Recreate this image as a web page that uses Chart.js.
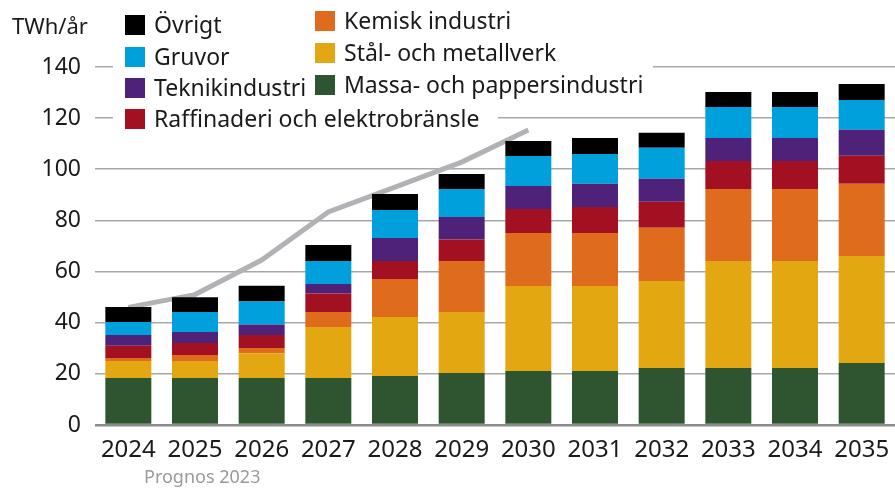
<!DOCTYPE html>
<html>
<head>
    <meta charset="UTF-8">
    <title>Elanvändning industri</title>
    <script src="https://cdn.jsdelivr.net/npm/chart.js"></script>
    <style>
        body { margin: 0; background: white; }
        #wrap { width: 895px; height: 488px; position: relative; }
    </style>
</head>
<body>
    <div id="wrap"><canvas id="industryChart"></canvas></div>

    <script>
        const years = ["2024", "2025", "2026", "2027", "2028", "2029", "2030", "2031", "2032", "2033", "2034", "2035"];

        // TWh/år per bransch, nedifrån och upp i stapeln
        const massa = [18.4, 18.4, 18.4, 18.4, 19.2, 20.3, 21.1, 21.1, 22.3, 22.3, 22.3, 24.2];
        const stal = [6.6, 6.6, 9.7, 19.9, 23.0, 23.9, 33.3, 33.3, 34.0, 41.8, 41.8, 41.9];
        const kemisk = [1.2, 2.4, 2.0, 5.9, 14.9, 19.9, 20.7, 20.7, 20.8, 28.2, 28.2, 28.2];
        const raffinaderi = [4.8, 4.7, 5.1, 7.2, 7.0, 8.4, 9.4, 10.2, 10.2, 10.9, 10.9, 11.0];
        const teknik = [4.2, 4.3, 4.1, 3.7, 9.0, 8.8, 9.0, 9.0, 9.0, 9.0, 9.0, 10.2];
        const gruvor = [5.1, 7.8, 9.0, 9.0, 11.0, 11.0, 11.7, 11.7, 12.1, 12.2, 12.2, 11.6];
        const ovrigt = [5.8, 5.8, 6.2, 6.3, 6.2, 5.9, 5.9, 6.2, 5.9, 5.8, 5.8, 6.3];

        // Prognos 2023 (grå linje)
        const prognos2023 = [46, 51, 64.5, 83.3, 93, 102.8, 115.4, null, null, null, null, null];

        const yTicks = [0, 20, 40, 60, 80, 100, 120, 140];

        const FONT = "'Noto Sans', sans-serif";

        // egen legend i två kolumner + textrader
        const legendPlugin = {
            id: "customLegend",
            afterDraw(chart) {
                const ctx = chart.ctx;
                ctx.save();

                // vit bakgrund bakom legenden (döljer stödlinjer)
                ctx.fillStyle = "white";
                ctx.fillRect(113, 0, 540, 100);
                ctx.fillRect(113, 100, 385, 34);

                const bars = chart.data.datasets.filter(d => d.type !== "line").slice().reverse();
                const col1 = { x: 125, rows: [25, 57, 88, 119] };
                const col2 = { x: 315, rows: [21, 53, 85] };

                ctx.font = "23px " + FONT;
                ctx.textBaseline = "middle";
                ctx.textAlign = "left";
                bars.forEach((ds, i) => {
                    const col = i < 4 ? col1 : col2;
                    const y = col.rows[i < 4 ? i : i - 4];
                    ctx.fillStyle = ds.backgroundColor;
                    ctx.fillRect(col.x, y - 10, 20, 20);
                    ctx.fillStyle = "#1a1a1a";
                    ctx.fillText(ds.label, col.x + 29, y + 1);
                });

                ctx.fillStyle = "#1a1a1a";
                ctx.font = "22px " + FONT;
                ctx.fillText("TWh/år", 12, 28);

                ctx.fillStyle = "#9a9a9a";
                ctx.font = "18px " + FONT;
                ctx.fillText("Prognos 2023", 144, 478);
                ctx.restore();
            }
        };

        new Chart(document.getElementById("industryChart"), {
            type: "bar",
            data: {
                labels: years,
                datasets: [
                    { label: "Prognos 2023", type: "line", data: prognos2023, borderColor: "#b2b2b6", borderWidth: 5,
                      pointRadius: 0, fill: false, tension: 0, order: 10 },
                    { label: "Massa- och pappersindustri", data: massa, backgroundColor: "#2f5530" },
                    { label: "Stål- och metallverk", data: stal, backgroundColor: "#e3a712" },
                    { label: "Kemisk industri", data: kemisk, backgroundColor: "#de6c1c" },
                    { label: "Raffinaderi och elektrobränsle", data: raffinaderi, backgroundColor: "#a31021" },
                    { label: "Teknikindustri", data: teknik, backgroundColor: "#4e2279" },
                    { label: "Gruvor", data: gruvor, backgroundColor: "#00a0dc" },
                    { label: "Övrigt", data: ovrigt, backgroundColor: "#000000" }
                ]
            },
            options: {
                responsive: true,
                maintainAspectRatio: false,
                animation: false,
                layout: { padding: { top: 67, right: 0, left: 0, bottom: 0 } },
                datasets: {
                    bar: { barPercentage: 0.69, categoryPercentage: 1, stack: "s" }
                },
                scales: {
                    x: {
                        stacked: true,
                        grid: { display: false },
                        border: { display: false },
                        ticks: { color: "#1a1a1a", font: { family: FONT, size: 24 }, padding: 3, maxRotation: 0 },
                        afterFit(scale) { scale.height = 63; }
                    },
                    y: {
                        stacked: true,
                        min: 0,
                        max: 140,
                        afterBuildTicks(scale) { scale.ticks = yTicks.map(v => ({ value: v })); },
                        grid: {
                            drawTicks: false,
                            color: c => c.tick.value === 0 ? "#8c8c8c" : "#a8a8a8",
                            lineWidth: c => c.tick.value === 0 ? 2.5 : 1.6
                        },
                        border: { display: false },
                        ticks: { color: "#1a1a1a", font: { family: FONT, size: 23 }, padding: 14 },
                        afterFit(scale) { scale.width = 95; }
                    }
                },
                plugins: {
                    legend: { display: false },
                    tooltip: { enabled: false }
                }
            },
            plugins: [legendPlugin]
        });
    </script>
</body>
</html>
